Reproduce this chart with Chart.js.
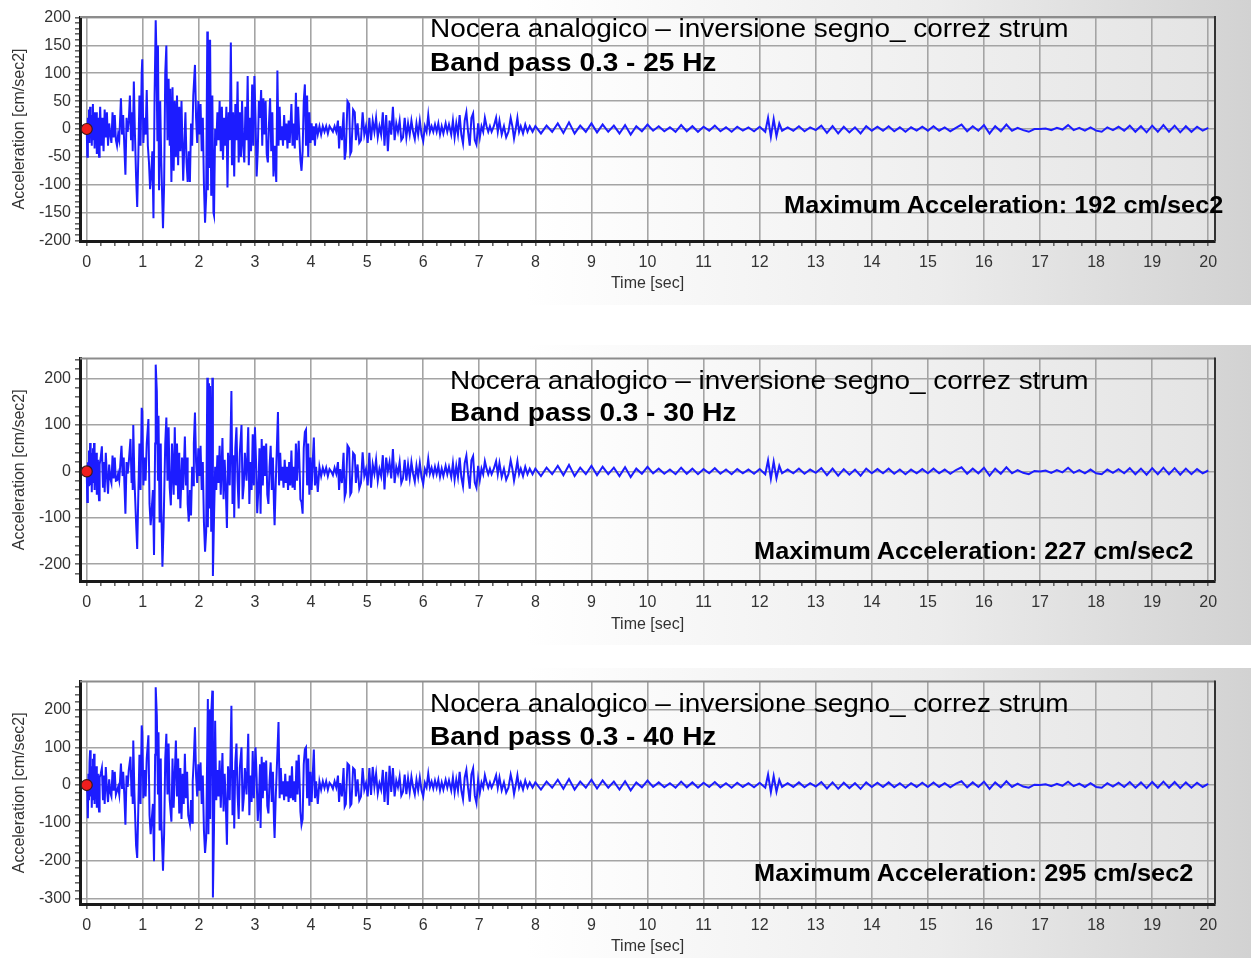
<!DOCTYPE html>
<html><head><meta charset="utf-8">
<script src="https://cdn.jsdelivr.net/npm/chart.js@4.4.1/dist/chart.umd.min.js"></script>
<style>
html,body{margin:0;padding:0;background:#fff;width:1251px;height:958px;overflow:hidden;font-family:"Liberation Sans",Arial,sans-serif;}
.panel{position:absolute;left:0;width:1251px;background:linear-gradient(to right,#ffffff 0%,#ffffff 42%,#ececec 75%,#d2d2d2 100%);}
canvas{position:absolute;left:0;}
.t{position:absolute;white-space:nowrap;color:#000;line-height:1;transform-origin:left center;}
.r{transform-origin:right center;text-align:right;}
</style></head><body>
<div class="panel" style="top:0;height:305px"></div>
<div class="panel" style="top:345px;height:300px"></div>
<div class="panel" style="top:668px;height:290px"></div>
<canvas id="c1" width="1251" height="305" style="top:0"></canvas>
<canvas id="c2" width="1251" height="300" style="top:345px"></canvas>
<canvas id="c3" width="1251" height="290" style="top:668px"></canvas>
<div id="labels"></div>
<script>
// ---------- data (time [s], acceleration [cm/s^2]) ----------
const TITLE = "Nocera analogico \u2013 inversione segno_ correz strum";
const BANDS = ["Band pass 0.3 - 25 Hz", "Band pass 0.3 - 30 Hz", "Band pass 0.3 - 40 Hz"];
const MAX_ACC = [192, 227, 295];
const TIME_TICKS = [0,1,2,3,4,5,6,7,8,9,10,11,12,13,14,15,16,17,18,19,20];
const Y_TICKS_25 = [-200,-150,-100,-50,0,50,100,150,200];
const Y_TICKS_30 = [-200,-100,0,100,200];
const Y_TICKS_40 = [-300,-200,-100,0,100,200];

const P25 = [[0,0],[0.01,-50],[0.02,20],[0.03,-10],[0.04,35],[0.05,-25],[0.06,40],[0.07,-15],[0.08,25],[0.09,-30],[0.10,10],[0.11,45],[0.12,-20],[0.13,30],[0.14,-35],[0.15,15],[0.16,-10],[0.17,30],[0.18,-45],[0.19,20],[0.20,-15],[0.22,-50],[0.23,10],[0.24,40],[0.26,-30],[0.28,20],[0.30,-40],[0.32,35],[0.34,-15],[0.36,30],[0.38,-30],[0.40,10],[0.42,-10],[0.44,-25],[0.46,30],[0.48,-15],[0.50,25],[0.52,-20],[0.54,-30],[0.56,-10],[0.58,-20],[0.61,55],[0.63,-10],[0.65,25],[0.67,-30],[0.69,-82],[0.71,20],[0.73,-5],[0.75,15],[0.77,60],[0.79,-20],[0.81,30],[0.82,-40],[0.84,85],[0.86,-10],[0.88,-85],[0.90,-140],[0.92,-50],[0.94,60],[0.96,-30],[0.98,100],[0.99,125],[1.01,-25],[1.03,20],[1.05,-10],[1.07,70],[1.09,-30],[1.11,-60],[1.13,-108],[1.15,-80],[1.17,-40],[1.19,-160],[1.21,60],[1.23,195],[1.24,150],[1.26,-20],[1.27,150],[1.29,-110],[1.31,50],[1.33,-60],[1.36,-178],[1.38,-100],[1.40,100],[1.42,150],[1.44,-20],[1.46,90],[1.48,-30],[1.49,72],[1.51,-95],[1.53,75],[1.55,-75],[1.57,50],[1.59,-50],[1.61,60],[1.63,-65],[1.65,40],[1.67,-40],[1.69,50],[1.72,-93],[1.74,-30],[1.76,30],[1.78,-60],[1.80,-95],[1.82,-40],[1.84,-95],[1.86,10],[1.88,-30],[1.90,60],[1.93,115],[1.95,20],[1.97,-25],[1.99,50],[2.01,-10],[2.03,45],[2.05,-40],[2.07,20],[2.09,-100],[2.11,-168],[2.13,-120],[2.15,175],[2.16,-110],[2.17,160],[2.19,-70],[2.20,160],[2.22,-120],[2.24,60],[2.26,-150],[2.27,-155],[2.29,0],[2.31,-30],[2.33,30],[2.35,-20],[2.37,50],[2.39,-40],[2.41,40],[2.43,-55],[2.45,20],[2.47,-30],[2.49,40],[2.51,-105],[2.53,30],[2.55,-20],[2.57,155],[2.59,-65],[2.61,30],[2.63,-85],[2.65,45],[2.67,-20],[2.69,85],[2.71,-60],[2.73,30],[2.75,-50],[2.77,50],[2.79,-30],[2.81,-60],[2.83,40],[2.85,-20],[2.87,95],[2.89,-65],[2.91,20],[2.93,-40],[2.95,80],[2.97,-30],[2.99,95],[3.01,20],[3.03,-85],[3.05,-40],[3.07,50],[3.09,20],[3.11,70],[3.13,-30],[3.15,55],[3.17,-10],[3.19,50],[3.21,-45],[3.23,-60],[3.25,10],[3.27,55],[3.29,-40],[3.31,30],[3.33,-85],[3.35,-30],[3.38,-95],[3.40,105],[3.42,-30],[3.44,40],[3.46,-20],[3.48,5],[3.50,-30],[3.52,25],[3.54,-20],[3.56,10],[3.58,-35],[3.60,15],[3.62,-25],[3.65,45],[3.67,-30],[3.69,10],[3.71,-35],[3.73,65],[3.75,-20],[3.77,40],[3.79,-10],[3.81,-55],[3.83,-75],[3.85,-40],[3.87,50],[3.89,80],[3.91,-30],[3.93,60],[3.95,-50],[3.97,30],[3.99,-25],[4.01,10],[4.03,-20],[4.05,5],[4.07,-30],[4.09,10],[4.12,-10],[4.15,5],[4.18,-10],[4.21,5],[4.24,-5],[4.27,5],[4.30,-8],[4.33,5],[4.36,0],[4.39,-5],[4.42,5],[4.45,-5],[4.48,15],[4.50,-35],[4.52,5],[4.55,-20],[4.58,30],[4.60,-55],[4.62,-40],[4.65,50],[4.68,45],[4.70,-45],[4.72,-40],[4.75,35],[4.78,30],[4.80,-20],[4.83,10],[4.86,-25],[4.89,-20],[4.92,30],[4.95,-10],[4.98,5],[5.01,-25],[5.04,20],[5.07,-20],[5.10,15],[5.13,-5],[5.16,20],[5.19,-15],[5.22,5],[5.25,-10],[5.28,30],[5.31,-30],[5.34,25],[5.37,-40],[5.40,15],[5.43,-10],[5.46,40],[5.49,-20],[5.52,10],[5.55,-5],[5.58,15],[5.61,-20],[5.64,-15],[5.67,20],[5.70,-15],[5.73,10],[5.76,-10],[5.79,15],[5.82,-5],[5.85,-18],[5.88,10],[5.91,-10],[5.94,15],[5.97,-10],[6.00,-22],[6.03,5],[6.06,-5],[6.09,25],[6.12,-5],[6.15,5],[6.18,-5],[6.21,8],[6.24,-5],[6.27,10],[6.30,-10],[6.33,5],[6.36,-8],[6.40,10],[6.43,-5],[6.46,8],[6.50,-10],[6.53,15],[6.56,-15],[6.59,10],[6.62,-10],[6.65,25],[6.68,-10],[6.71,-26],[6.74,15],[6.77,30],[6.80,-5],[6.83,-30],[6.86,20],[6.89,28],[6.92,-20],[6.95,-28],[6.98,10],[7.01,-15],[7.04,5],[7.07,-5],[7.10,20],[7.13,5],[7.16,-5],[7.19,5],[7.22,-5],[7.26,5],[7.30,20],[7.33,-5],[7.36,15],[7.40,-10],[7.44,5],[7.48,-15],[7.52,-5],[7.56,20],[7.59,5],[7.62,-17],[7.65,0],[7.68,20],[7.71,-5],[7.74,5],[7.78,-8],[7.82,8],[7.86,-5],[7.90,5],[7.95,-5],
[8.0,5],[8.1,-8],[8.2,6],[8.3,-5],[8.4,10],[8.5,-7],[8.6,12],[8.7,-8],[8.8,6],[8.9,-5],[9.0,10],[9.1,-6],[9.2,8],[9.3,-5],[9.4,6],[9.5,-8],[9.6,7],[9.7,-10],[9.8,5],[9.9,-4],[10.0,8],[10.1,-3],[10.2,5],[10.3,-4],[10.4,3],[10.5,-5],[10.6,7],[10.7,-4],[10.8,5],[10.9,-5],[11.0,4],[11.1,-3],[11.2,6],[11.3,-4],[11.4,3],[11.5,-5],[11.6,4],[11.7,-3],[11.8,3],[11.9,-4],[12.0,4],[12.1,-5],[12.15,20],[12.2,-14],[12.25,18],[12.3,-13],[12.35,10],[12.4,-3],[12.5,3],[12.6,-3],[12.7,5],[12.8,-4],[12.9,3],[13.0,-2],[13.1,6],[13.2,-7],[13.3,5],[13.4,-8],[13.5,4],[13.6,-6],[13.7,3],[13.8,-8],[13.9,5],[14.0,-3],[14.1,4],[14.2,-3],[14.3,5],[14.4,-4],[14.5,3],[14.6,-5],[14.7,3],[14.8,-3],[14.9,4],[15.0,-3],[15.1,5],[15.2,-3],[15.3,3],[15.4,-4],[15.5,2],[15.6,8],[15.7,-4],[15.8,5],[15.9,-3],[16.0,7],[16.1,-8],[16.2,5],[16.3,-4],[16.4,8],[16.5,-3],[16.6,2],[16.7,-2],[16.8,-5],[16.9,0],[17.0,0],[17.1,1],[17.2,-2],[17.3,2],[17.4,-1],[17.5,7],[17.6,-2],[17.7,2],[17.8,-3],[17.9,3],[18.0,-3],[18.1,-5],[18.2,3],[18.3,-2],[18.4,4],[18.5,-3],[18.6,6],[18.7,-5],[18.8,5],[18.9,-6],[19.0,6],[19.1,-5],[19.2,7],[19.3,-5],[19.4,6],[19.5,-6],[19.6,5],[19.7,-5],[19.8,4],[19.9,-3],[20.0,2]];

const P30 = [[0,0],[0.01,-66],[0.02,20],[0.03,-30],[0.04,45],[0.05,-20],[0.06,61],[0.07,-30],[0.08,40],[0.09,-45],[0.10,20],[0.11,50],[0.12,-25],[0.13,61],[0.14,-40],[0.15,25],[0.16,-20],[0.17,40],[0.18,-50],[0.19,25],[0.20,-20],[0.22,-62],[0.23,15],[0.25,30],[0.27,54],[0.29,-35],[0.31,20],[0.32,-45],[0.34,40],[0.36,-10],[0.38,-48],[0.40,15],[0.42,-15],[0.44,-25],[0.46,34],[0.48,-15],[0.50,30],[0.52,-20],[0.54,-19],[0.56,-5],[0.58,-19],[0.62,55],[0.64,-10],[0.66,30],[0.67,-20],[0.69,-91],[0.71,20],[0.73,-5],[0.75,20],[0.78,70],[0.80,-25],[0.81,30],[0.82,-40],[0.83,100],[0.85,-15],[0.88,-110],[0.90,-167],[0.92,-50],[0.94,60],[0.96,-40],[0.98,137],[0.99,130],[1.01,-30],[1.03,30],[1.05,-20],[1.07,60],[1.10,113],[1.12,-70],[1.14,-116],[1.16,-80],[1.18,-40],[1.20,-180],[1.22,60],[1.23,230],[1.25,173],[1.27,-20],[1.28,120],[1.30,-110],[1.32,60],[1.33,-80],[1.35,-205],[1.37,-120],[1.40,60],[1.42,116],[1.44,-20],[1.46,95],[1.48,-35],[1.50,-73],[1.52,60],[1.55,-50],[1.57,95],[1.59,-30],[1.61,60],[1.63,-60],[1.65,40],[1.67,-79],[1.70,30],[1.72,-40],[1.75,75],[1.77,-30],[1.79,30],[1.80,-70],[1.82,-108],[1.84,-40],[1.86,-95],[1.88,10],[1.90,-30],[1.91,60],[1.93,127],[1.95,20],[1.97,-25],[1.99,50],[2.01,-10],[2.03,55],[2.05,-40],[2.07,20],[2.09,-110],[2.11,-173],[2.13,-130],[2.15,202],[2.16,-120],[2.18,190],[2.19,-80],[2.20,184],[2.22,-130],[2.24,202],[2.25,-225],[2.27,-100],[2.29,10],[2.31,-40],[2.33,35],[2.35,-25],[2.37,55],[2.39,-50],[2.42,72],[2.44,-60],[2.46,25],[2.48,-40],[2.50,-122],[2.52,40],[2.55,-30],[2.58,173],[2.60,-70],[2.62,35],[2.63,-100],[2.65,50],[2.67,95],[2.69,-20],[2.71,-80],[2.73,40],[2.76,100],[2.78,-60],[2.80,-30],[2.82,40],[2.85,-20],[2.88,95],[2.90,-70],[2.92,20],[2.94,-40],[2.96,80],[2.98,-30],[3.00,95],[3.02,20],[3.04,-90],[3.06,-40],[3.08,50],[3.10,-91],[3.12,70],[3.14,-30],[3.16,55],[3.18,-10],[3.20,60],[3.22,-50],[3.24,-70],[3.26,10],[3.28,55],[3.30,-40],[3.32,30],[3.34,-80],[3.35,-116],[3.37,-30],[3.41,128],[3.43,-30],[3.45,40],[3.47,-20],[3.49,10],[3.51,-35],[3.53,25],[3.55,-25],[3.57,10],[3.59,-40],[3.61,20],[3.63,-30],[3.65,45],[3.67,-35],[3.69,10],[3.71,-40],[3.73,60],[3.75,-20],[3.78,66],[3.80,-10],[3.81,-60],[3.83,-66],[3.85,-91],[3.87,50],[3.89,85],[3.91,90],[3.93,-30],[3.95,60],[3.97,-50],[3.99,30],[4.01,-40],[4.03,20],[4.05,73],[4.07,-30],[4.09,10],[4.12,-44],[4.15,10],[4.18,-10],[4.21,8],[4.24,-5],[4.27,8],[4.30,-10],[4.33,5],[4.36,0],[4.39,-8],[4.42,8],[4.45,-5],[4.48,20],[4.50,-40],[4.52,5],[4.55,-25],[4.58,40],[4.60,-55],[4.62,-45],[4.65,56],[4.68,50],[4.70,-50],[4.72,-45],[4.75,40],[4.78,35],[4.80,-25],[4.83,15],[4.86,-37],[4.89,-25],[4.92,41],[4.95,-10],[4.98,5],[5.01,-30],[5.04,40],[5.07,-35],[5.10,15],[5.13,-5],[5.16,25],[5.19,-20],[5.22,5],[5.25,-10],[5.28,35],[5.31,-39],[5.34,30],[5.37,0],[5.40,20],[5.43,-15],[5.46,48],[5.49,-25],[5.52,10],[5.55,-5],[5.58,20],[5.61,-25],[5.64,-15],
[5.67,25],[5.70,-20],[5.73,15],[5.76,-15],[5.79,20],[5.82,-5],[5.85,-22],[5.88,12],[5.91,-12],[5.94,18],[5.97,-12],[6.00,-27],[6.03,5],[6.06,-5],[6.09,27],[6.12,-5],[6.15,8],[6.18,-8],[6.21,10],[6.24,-6],[6.27,12],[6.30,-12],[6.33,6],[6.36,-10],[6.40,12],[6.43,-6],[6.46,10],[6.50,-12],[6.53,18],[6.56,-18],[6.59,12],[6.62,-12],[6.65,30],[6.68,-12],[6.71,-32],[6.74,18],[6.77,34],[6.80,-6],[6.83,-37],[6.86,24],[6.89,33],[6.92,-24],[6.95,-35],[6.98,12],[7.01,-18],[7.04,6],[7.07,-6],[7.10,22],[7.13,6],[7.16,-6],[7.19,6],[7.22,-6],[7.26,6],[7.30,22],[7.33,-6],[7.36,18],[7.40,-12],[7.44,6],[7.48,-18],[7.52,-6],[7.56,24],[7.59,6],[7.62,-20],[7.65,0],[7.68,22],[7.71,-6],[7.74,6],[7.78,-10],[7.82,10],[7.86,-6],[7.90,6],[7.95,-6],
[8.0,6],[8.1,-10],[8.2,8],[8.3,-6],[8.4,12],[8.5,-8],[8.6,14],[8.7,-10],[8.8,8],[8.9,-6],[9.0,12],[9.1,-8],[9.2,10],[9.3,-6],[9.4,8],[9.5,-10],[9.6,9],[9.7,-12],[9.8,6],[9.9,-5],[10.0,10],[10.1,-4],[10.2,6],[10.3,-5],[10.4,4],[10.5,-6],[10.6,8],[10.7,-5],[10.8,6],[10.9,-6],[11.0,5],[11.1,-4],[11.2,7],[11.3,-5],[11.4,4],[11.5,-6],[11.6,5],[11.7,-4],[11.8,4],[11.9,-5],[12.0,5],[12.1,-6],[12.15,24],[12.2,-16],[12.25,21],[12.3,-15],[12.35,12],[12.4,-4],[12.5,4],[12.6,-4],[12.7,6],[12.8,-5],[12.9,4],[13.0,-3],[13.1,7],[13.2,-8],[13.3,6],[13.4,-9],[13.5,5],[13.6,-7],[13.7,4],[13.8,-9],[13.9,6],[14.0,-4],[14.1,5],[14.2,-4],[14.3,6],[14.4,-5],[14.5,4],[14.6,-6],[14.7,4],[14.8,-4],[14.9,5],[15.0,-4],[15.1,6],[15.2,-4],[15.3,4],[15.4,-5],[15.5,3],[15.6,9],[15.7,-5],[15.8,6],[15.9,-4],[16.0,8],[16.1,-9],[16.2,6],[16.3,-5],[16.4,9],[16.5,-4],[16.6,3],[16.7,-3],[16.8,-6],[16.9,1],[17.0,0],[17.1,2],[17.2,-3],[17.3,3],[17.4,-2],[17.5,8],[17.6,-3],[17.7,3],[17.8,-4],[17.9,4],[18.0,-4],[18.1,-6],[18.2,4],[18.3,-3],[18.4,5],[18.5,-4],[18.6,7],[18.7,-6],[18.8,6],[18.9,-7],[19.0,7],[19.1,-6],[19.2,8],[19.3,-6],[19.4,7],[19.5,-7],[19.6,6],[19.7,-6],[19.8,5],[19.9,-4],[20.0,2]];

const P40 = [[0,0],[0.01,-20],[0.02,-88],[0.03,30],[0.04,-40],[0.05,60],[0.06,92],[0.07,-30],[0.08,50],[0.09,-60],[0.10,30],[0.11,70],[0.12,-40],[0.13,83],[0.14,-50],[0.15,40],[0.16,-30],[0.17,50],[0.18,-60],[0.19,30],[0.20,-30],[0.22,-70],[0.23,20],[0.25,30],[0.27,45],[0.29,-40],[0.31,25],[0.32,-50],[0.34,48],[0.36,-10],[0.38,-45],[0.40,15],[0.42,-20],[0.44,-30],[0.46,40],[0.48,-15],[0.50,35],[0.52,-25],[0.54,-15],[0.56,-5],[0.58,-25],[0.61,57],[0.63,-10],[0.65,35],[0.67,-25],[0.69,-105],[0.71,25],[0.73,-5],[0.75,40],[0.78,75],[0.80,-30],[0.81,40],[0.82,-50],[0.83,118],[0.85,-20],[0.88,-160],[0.90,-193],[0.92,-60],[0.94,80],[0.96,-50],[0.98,158],[0.99,140],[1.01,-35],[1.03,40],[1.05,-30],[1.07,70],[1.10,132],[1.12,-80],[1.14,-130],[1.16,-90],[1.18,-50],[1.20,-202],[1.22,80],[1.23,259],[1.25,184],[1.27,-25],[1.28,140],[1.30,-120],[1.32,70],[1.33,-90],[1.36,-227],[1.38,-130],[1.40,70],[1.42,136],[1.44,-25],[1.46,110],[1.48,-40],[1.51,-97],[1.53,70],[1.55,-60],[1.59,118],[1.61,-30],[1.63,70],[1.65,-75],[1.67,45],[1.69,-90],[1.71,30],[1.73,-50],[1.75,83],[1.77,-35],[1.79,35],[1.81,-80],[1.84,-103],[1.86,-40],[1.88,-100],[1.89,10],[1.91,70],[1.93,153],[1.95,25],[1.97,-30],[1.99,55],[2.01,-15],[2.03,60],[2.05,-50],[2.07,25],[2.09,-120],[2.11,-180],[2.13,-140],[2.16,228],[2.17,-130],[2.19,200],[2.20,-90],[2.22,190],[2.24,250],[2.25,-298],[2.27,-110],[2.29,170],[2.31,-40],[2.33,40],[2.35,-30],[2.37,65],[2.39,-60],[2.42,85],[2.44,-70],[2.46,30],[2.48,-50],[2.50,-158],[2.52,50],[2.55,-40],[2.58,210],[2.60,-80],[2.62,40],[2.63,-115],[2.65,60],[2.67,110],[2.69,-25],[2.71,-90],[2.73,45],[2.76,100],[2.78,-70],[2.80,-35],[2.82,45],[2.85,-25],[2.88,136],[2.90,-80],[2.92,25],[2.94,-45],[2.96,90],[2.98,-35],[3.01,100],[3.03,20],[3.05,-95],[3.07,-40],[3.09,55],[3.10,-114],[3.12,75],[3.14,-35],[3.16,60],[3.18,-15],[3.20,65],[3.22,-55],[3.24,-75],[3.26,10],[3.28,60],[3.30,-45],[3.32,35],[3.34,-100],[3.35,-140],[3.37,-35],[3.42,167],[3.44,-35],[3.46,45],[3.48,-25],[3.50,10],[3.52,-40],[3.54,30],[3.56,-30],[3.58,10],[3.60,-45],[3.62,25],[3.64,-35],[3.66,50],[3.68,-40],[3.70,10],[3.72,-45],[3.74,65],[3.76,-25],[3.78,80],[3.80,-10],[3.81,-70],[3.83,-105],[3.85,-90],[3.87,55],[3.89,95],[3.91,100],[3.93,-35],[3.95,70],[3.97,-55],[3.99,35],[4.01,-45],[4.03,25],[4.05,94],[4.07,-35],[4.09,10],[4.12,-50],[4.15,10],[4.18,-12],[4.21,10],
[4.24,-8],[4.27,10],[4.30,-12],[4.33,6],[4.36,0],[4.39,-10],[4.42,10],[4.45,-6],[4.48,25],[4.50,-45],[4.52,5],[4.55,-30],[4.58,45],[4.60,-57],[4.62,-50],[4.65,57],[4.68,52],[4.70,-55],[4.72,-50],[4.75,45],[4.78,40],[4.80,-30],[4.83,15],[4.86,-40],[4.89,-30],[4.92,45],[4.95,-12],[4.98,5],[5.01,-30],[5.04,45],[5.07,-26],[5.10,48],[5.13,-5],[5.16,30],[5.19,-22],[5.22,5],[5.25,-12],[5.28,40],[5.31,-45],[5.34,35],[5.37,-53],[5.40,51],[5.43,-18],[5.46,45],[5.49,-30],[5.52,12],[5.55,-6],[5.58,22],[5.61,-28],[5.64,-18],[5.67,28],[5.70,-24],[5.73,18],[5.76,-18],[5.79,22],[5.82,-6],[5.85,-25],[5.88,14],[5.91,-14],[5.94,20],[5.97,-14],[6.00,-30],[6.03,6],[6.06,-6],[6.09,30],[6.12,-6],[6.15,9],[6.18,-9],[6.21,12],[6.24,-7],[6.27,14],[6.30,-14],[6.33,7],[6.36,-12],[6.40,14],[6.43,-7],[6.46,12],[6.50,-14],[6.53,20],[6.56,-20],[6.59,14],[6.62,-14],[6.65,35],[6.68,-14],[6.71,-38],[6.74,20],[6.77,40],[6.80,-7],[6.83,-44],[6.86,28],[6.89,44],[6.92,-28],[6.95,-48],[6.98,14],[7.01,-20],[7.04,7],[7.07,-7],[7.10,26],[7.13,7],[7.16,-7],[7.19,7],[7.22,-7],[7.26,7],[7.30,26],[7.33,-7],[7.36,20],[7.40,-14],[7.44,7],[7.48,-20],[7.52,-7],[7.56,28],[7.59,7],[7.62,-24],[7.65,0],[7.68,26],[7.71,-7],[7.74,7],[7.78,-12],[7.82,12],[7.86,-7],[7.90,7],[7.95,-7],
[8.0,7],[8.1,-12],[8.2,9],[8.3,-7],[8.4,14],[8.5,-10],[8.6,16],[8.7,-12],[8.8,9],[8.9,-7],[9.0,14],[9.1,-9],[9.2,12],[9.3,-7],[9.4,9],[9.5,-12],[9.6,10],[9.7,-14],[9.8,7],[9.9,-6],[10.0,12],[10.1,-5],[10.2,7],[10.3,-6],[10.4,5],[10.5,-7],[10.6,9],[10.7,-6],[10.8,7],[10.9,-7],[11.0,6],[11.1,-5],[11.2,8],[11.3,-6],[11.4,5],[11.5,-7],[11.6,6],[11.7,-5],[11.8,5],[11.9,-6],[12.0,6],[12.1,-7],[12.15,28],[12.2,-19],[12.25,24],[12.3,-18],[12.35,14],[12.4,-5],[12.5,5],[12.6,-5],[12.7,7],[12.8,-6],[12.9,5],[13.0,-4],[13.1,8],[13.2,-9],[13.3,7],[13.4,-10],[13.5,6],[13.6,-8],[13.7,5],[13.8,-10],[13.9,7],[14.0,-5],[14.1,6],[14.2,-5],[14.3,7],[14.4,-6],[14.5,5],[14.6,-7],[14.7,5],[14.8,-5],[14.9,6],[15.0,-5],[15.1,7],[15.2,-5],[15.3,5],[15.4,-6],[15.5,4],[15.6,10],[15.7,-6],[15.8,7],[15.9,-5],[16.0,9],[16.1,-10],[16.2,7],[16.3,-6],[16.4,10],[16.5,-5],[16.6,4],[16.7,-4],[16.8,-7],[16.9,1],[17.0,0],[17.1,2],[17.2,-3],[17.3,3],[17.4,-2],[17.5,9],[17.6,-3],[17.7,4],[17.8,-5],[17.9,5],[18.0,-5],[18.1,-7],[18.2,5],[18.3,-4],[18.4,6],[18.5,-5],[18.6,8],[18.7,-7],[18.8,7],[18.9,-8],[19.0,8],[19.1,-7],[19.2,9],[19.3,-7],[19.4,8],[19.5,-8],[19.6,7],[19.7,-7],[19.8,6],[19.9,-5],[20.0,3]];

// ---------- chart construction ----------
const FONT = '"Liberation Sans", Arial, sans-serif';

const framePlugin = {
  id: 'frame',
  beforeDraw(chart) {
    const {ctx, chartArea: a} = chart;
    const g = ctx.createLinearGradient(a.left, 0, a.right, 0);
    g.addColorStop(0, '#ffffff'); g.addColorStop(0.4, '#ffffff'); g.addColorStop(1, '#e4e4e4');
    ctx.save(); ctx.fillStyle = g; ctx.fillRect(a.left, a.top, a.right - a.left, a.bottom - a.top); ctx.restore();
  },
  afterDraw(chart) {
    const {ctx, chartArea: a} = chart;
    ctx.save();
    ctx.lineWidth = 2; ctx.strokeStyle = '#8c8c8c';
    ctx.beginPath(); ctx.moveTo(a.left, a.top); ctx.lineTo(a.right, a.top); ctx.stroke();
    ctx.strokeStyle = '#333';
    ctx.beginPath(); ctx.moveTo(a.right, a.top - 1); ctx.lineTo(a.right, a.bottom); ctx.stroke();
    ctx.restore();
  }
};

function makeChart(id, pairs, yMin, yMax, yMajors, yMinorStep, padTop, xAxisH, titlePadBottom) {
  new Chart(document.getElementById(id), {
    type: 'line',
    data: {
      datasets: [
        { data: [{x: 0, y: 0}], showLine: false, pointRadius: 5.5, pointBackgroundColor: '#f01e1e', pointBorderColor: '#3a1a1a', pointBorderWidth: 1.2, order: 0 },
        { data: pairs.map(p => ({x: p[0], y: p[1]})), borderColor: '#1c1cff', borderWidth: 2, pointRadius: 0, tension: 0, fill: false, order: 1 }
      ]
    },
    options: {
      responsive: false, animation: false, devicePixelRatio: 1,
      layout: { padding: { left: 0, right: 36, top: padTop, bottom: 0 } },
      plugins: { legend: { display: false }, tooltip: { enabled: false } },
      scales: {
        x: {
          type: 'linear', min: -0.12, max: 20.12,
          afterFit(s) { s.height = xAxisH; },
          afterBuildTicks(s) {
            const t = [];
            for (let i = 0; i <= 80; i++) t.push({ value: i / 4 });
            s.ticks = t;
          },
          ticks: { autoSkip: false, maxRotation: 0, padding: 7, color: '#333', font: { family: FONT, size: 16 },
                   callback: v => TIME_TICKS.includes(v) ? String(v) : '' },
          grid: { color: c => (c.tick && TIME_TICKS.includes(c.tick.value)) ? '#a4a4a4' : 'rgba(0,0,0,0)', lineWidth: 1.6,
                  tickColor: '#666', tickLength: 5, drawTicks: true },
          border: { display: true, color: '#1a1a1a', width: 3 },
          title: { display: true, text: 'Time [sec]', color: '#333', font: { family: FONT, size: 16 }, padding: { top: 0, bottom: titlePadBottom } }
        },
        y: {
          min: yMin, max: yMax,
          afterFit(s) { s.width = 80; },
          afterBuildTicks(s) {
            const t = [];
            for (let v = Math.ceil(yMin / yMinorStep) * yMinorStep; v <= yMax; v += yMinorStep) t.push({ value: v });
            s.ticks = t;
          },
          ticks: { autoSkip: false, padding: 4, color: '#333', font: { family: FONT, size: 16 },
                   callback: v => yMajors.includes(v) ? String(v) : '' },
          grid: { color: c => (c.tick && yMajors.includes(c.tick.value)) ? '#a4a4a4' : 'rgba(0,0,0,0)', lineWidth: 1.6,
                  tickColor: '#666', tickLength: 5 },
          border: { display: true, color: '#1a1a1a', width: 3 },
          title: { display: true, text: 'Acceleration [cm/sec2]', color: '#333', font: { family: FONT, size: 16 }, padding: { top: 10, bottom: 0 } }
        }
      }
    },
    plugins: [framePlugin]
  });
}

makeChart('c1', P25, -201, 201, Y_TICKS_25, 10, 17, 305 - 241, 12);
makeChart('c2', P30, -236, 243, Y_TICKS_30, 20, 12.5, 300 - 236, 11);
makeChart('c3', P40, -315, 274, Y_TICKS_40, 20, 13, 290 - 236, 2);

// ---------- annotation text ----------
const LAB = [
  { x: 430, tb: 37.5, bb: 70.7, mr: 1223, mb: 213.5 },
  { x: 450, tb: 389,  bb: 420.7, mr: 1193, mb: 559 },
  { x: 430, tb: 712.3, bb: 744.7, mr: 1193, mb: 881.7 }
];
const host = document.getElementById('labels');
LAB.forEach((L, i) => {
  const a = document.createElement('div');
  a.className = 't'; a.textContent = TITLE;
  a.style.cssText = `left:${L.x}px;top:${L.tb - 0.8465*26}px;font-size:26px;transform:scaleX(1.075)`;
  host.appendChild(a);
  const b = document.createElement('div');
  b.className = 't'; b.textContent = BANDS[i];
  b.style.cssText = `left:${L.x}px;top:${L.bb - 0.8465*26}px;font-size:26px;font-weight:bold;transform:scaleX(1.077)`;
  host.appendChild(b);
  const m = document.createElement('div');
  m.className = 't r'; m.textContent = 'Maximum Acceleration: ' + MAX_ACC[i] + ' cm/sec2';
  m.style.cssText = `right:${1251 - L.mr}px;top:${L.mb - 0.8465*23}px;font-size:23px;font-weight:bold;transform:scaleX(1.1)`;
  host.appendChild(m);
});
</script>
</body></html>
